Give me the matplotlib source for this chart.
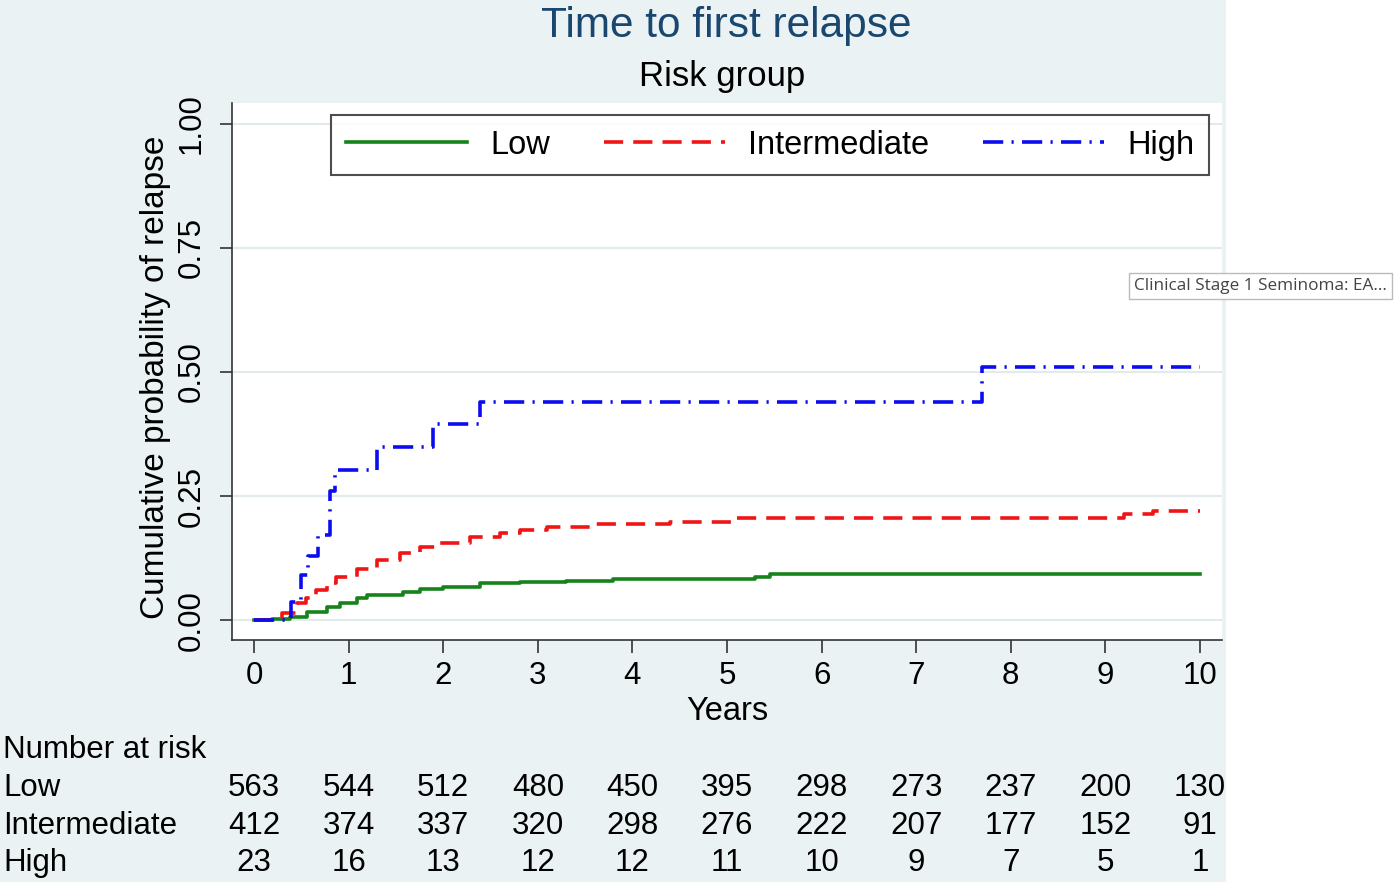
import matplotlib
matplotlib.use("Agg")
import matplotlib.pyplot as plt
from matplotlib.patches import Rectangle
import matplotlib.transforms as mtransforms

plt.rcParams['font.family'] = ['Liberation Sans', 'DejaVu Sans']

# ---- data ----
low_t = [0, 0.19, 0.38, 0.56, 0.77, 0.91, 1.09, 1.19, 1.58, 1.75, 2.0, 2.39, 2.81, 3.3, 3.8, 5.3, 5.45, 10]
low_y = [0, 0.003, 0.007, 0.017, 0.027, 0.034, 0.044, 0.050, 0.057, 0.062, 0.066, 0.074, 0.077, 0.079, 0.083, 0.087, 0.093, 0.093]

int_t = [0, 0.19, 0.3, 0.45, 0.55, 0.66, 0.77, 0.87, 1.09, 1.3, 1.54, 1.75, 1.97, 2.28, 2.6, 2.81, 3.1, 3.6, 4.4, 5.07, 9.2, 9.5, 10]
int_y = [0, 0.005, 0.015, 0.034, 0.045, 0.06, 0.075, 0.087, 0.104, 0.121, 0.135, 0.148, 0.155, 0.168, 0.175, 0.181, 0.188, 0.193, 0.197, 0.206, 0.213, 0.220, 0.220]

high_t = [0, 0.39, 0.5, 0.57, 0.68, 0.80, 0.86, 1.30, 1.89, 2.39, 7.70, 10]
high_y = [0, 0.036, 0.09, 0.13, 0.171, 0.26, 0.302, 0.349, 0.395, 0.44, 0.51, 0.51]

years = list(range(0, 11))
y_ticks = [0.0, 0.25, 0.5, 0.75, 1.0]
y_tick_labels = ["0.00", "0.25", "0.50", "0.75", "1.00"]

risk_groups = ["Low", "Intermediate", "High"]
risk_low = [563, 544, 512, 480, 450, 395, 298, 273, 237, 200, 130]
risk_int = [412, 374, 337, 320, 298, 276, 222, 207, 177, 152, 91]
risk_high = [23, 16, 13, 12, 12, 11, 10, 9, 7, 5, 1]

W, H = 1394, 882
fig = plt.figure(figsize=(W / 100, H / 100), dpi=100)
fig.patch.set_facecolor("white")

bg = "#EAF2F3"
fig.patches.append(Rectangle((0, 0), 1226 / W, 1, transform=fig.transFigure,
                             facecolor=bg, edgecolor="none", zorder=-10))

ax = fig.add_axes([232 / W, 1 - 640 / H, (1222 - 232) / W, (640 - 103) / H])
ax.set_zorder(1)
ax.set_facecolor("white")

green = "#16821a"
red = "#f01414"
blue = "#0c0cf0"
lw = 2.6

ax.plot(low_t, low_y, drawstyle="steps-post", color=green, lw=lw, label="Low", zorder=3)
ax.plot(int_t, int_y, drawstyle="steps-post", color=red, lw=lw, label="Intermediate",
        dashes=(5.3, 2.8), zorder=4)
ax.plot(high_t, high_y, drawstyle="steps-post", color=blue, lw=lw, label="High",
        dashes=(5.6, 2.3, 0.6, 2.3), zorder=5)

ax.set_xlim(-0.233, 10.233)
ax.set_ylim(-0.040, 1.042)
ax.set_xticks(years)
ax.set_xticklabels([str(y) for y in years])
ax.set_yticks(y_ticks)
ax.set_yticklabels(y_tick_labels, rotation=90, va="center")

for s in ["top", "right"]:
    ax.spines[s].set_visible(False)
for s in ["left", "bottom"]:
    ax.spines[s].set_color("#333333")
    ax.spines[s].set_linewidth(1.2)

ax.tick_params(axis="both", length=9, width=1.2, color="#333333", labelsize=22.5, labelcolor="black")
ax.tick_params(axis="x", pad=6)
ax.tick_params(axis="y", pad=9)
ax.yaxis.grid(True, color="#E3EAEB", lw=1.5, zorder=0)
ax.set_axisbelow(True)

ax.set_xlabel("Years", fontsize=23.5, labelpad=4)
ax.set_ylabel("Cumulative probability of relapse", fontsize=24)
ax.yaxis.set_label_coords(-(232 - 156) / (1222 - 232), 0.49)
ax.yaxis.label.set_va("center")

leg = ax.legend(loc="upper right", bbox_to_anchor=(1209 / W, 1 - 115 / H),
                bbox_transform=fig.transFigure, ncol=3, fontsize=23.5,
                handlelength=3.72, handletextpad=0.7, columnspacing=1.65,
                frameon=True, fancybox=False, borderpad=0.45, borderaxespad=0)
leg.get_frame().set_edgecolor("#222222")
leg.get_frame().set_linewidth(1.5)

fig.text(726 / W, 1 - 37 / H, "Time to first relapse", ha="center", va="baseline",
         fontsize=30.5, color="#1A476F")
fig.text(722 / W, 1 - 86 / H, "Risk group", ha="center", va="baseline",
         fontsize=25, color="black")

trans = mtransforms.blended_transform_factory(ax.transData, fig.transFigure)
fig.text(3 / W, 1 - 750 / H, "Number at risk", ha="left", va="center", fontsize=22.5)
rows = [risk_low, risk_int, risk_high]
row_y = [788, 826, 863]
for name, vals, py in zip(risk_groups, rows, row_y):
    fig.text(3 / W, 1 - py / H, name, ha="left", va="center", fontsize=22.5)
    for yr, v in zip(years, vals):
        ax.text(yr, 1 - py / H, str(v), transform=trans, ha="center", va="center",
                fontsize=22.5, clip_on=False)

fig.text(1134 / W, 1 - 286 / H, "Clinical Stage 1 Seminoma: EA...", ha="left", va="center",
         fontsize=12.3, color="#444444", family=["Open Sans", "DejaVu Sans"],
         bbox=dict(boxstyle="square,pad=0.3", facecolor="white", edgecolor="#BBBBBB", lw=1))

fig.savefig("out.png", dpi=100, facecolor=fig.get_facecolor())
